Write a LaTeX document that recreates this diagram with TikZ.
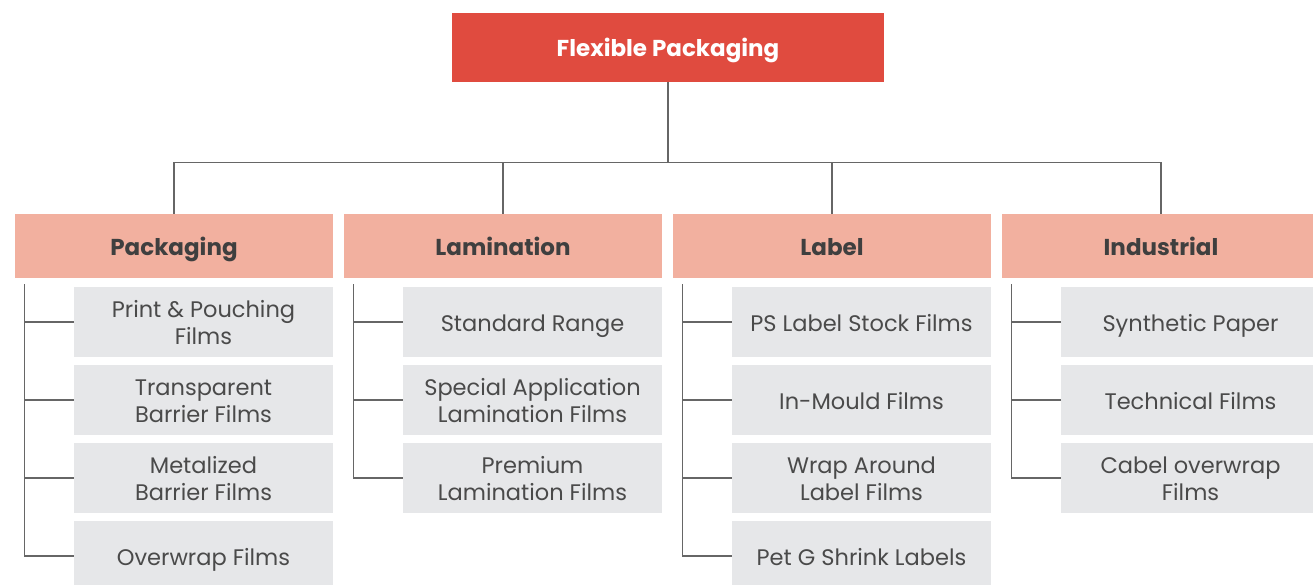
\documentclass[tikz,border=0pt]{standalone}
\usepackage{fontspec}
\setmainfont{Poppins}
\definecolor{rootred}{HTML}{E04B3F}
\definecolor{catpink}{HTML}{F2B09F}
\definecolor{itemgray}{HTML}{E6E7E9}
\definecolor{txtgray}{HTML}{4A4A4A}
\definecolor{catgray}{HTML}{3F3F3F}
\definecolor{linegray}{HTML}{666666}
\newcommand\twolines[2]{\begin{tabular}{@{}c@{}}#1\\#2\end{tabular}}
\begin{document}
\begin{tikzpicture}[x=1pt,y=-1pt,
    rootbox/.style={fill=rootred, text=white, font=\bfseries\fontsize{23}{27}\selectfont,
      minimum width=432, minimum height=69, inner sep=0pt, text height=20pt, text depth=2pt},
    catbox/.style={fill=catpink, text=catgray, font=\bfseries\fontsize{23}{27}\selectfont,
      minimum width=318, minimum height=64, inner sep=0pt, text height=20pt, text depth=2pt},
    itembox/.style={fill=itemgray, text=txtgray, font=\fontsize{22.5}{27}\selectfont,
      minimum width=259, minimum height=70, inner sep=0pt, text height=20pt, text depth=2pt},
    twoline/.style={itembox, text height=36pt, text depth=18.6pt},
    link/.style={draw=linegray, line width=1.2pt}]
  \useasboundingbox (0,0) rectangle (1313,585);
  % top level
  \node[rootbox] (root) at (668,47.5) {Flexible Packaging};
  \node[catbox] (pack) at (174,246) {Packaging};
  \node[catbox] (lami) at (503,246) {Lamination};
  \node[catbox] (label) at (832,246) {Label};
  \node[catbox] (indu) at (1161,246) {Industrial};
  \foreach \c in {pack,lami,label,indu}
    \draw[link] (root.south) -- ++(0,80) -| (\c.north);
  % packaging
  \node[twoline] (pack1) at (203.5,322) {\twolines{Print \& Pouching}{Films}};
  \node[twoline] (pack2) at (203.5,400) {\twolines{Transparent}{Barrier Films}};
  \node[twoline] (pack3) at (203.5,478) {\twolines{Metalized}{Barrier Films}};
  \node[itembox] (pack4) at (203.5,556) {Overwrap Films};
  % lamination
  \node[itembox] (lami1) at (532.5,322) {Standard Range};
  \node[twoline] (lami2) at (532.5,400) {\twolines{Special Application}{Lamination Films}};
  \node[twoline] (lami3) at (532.5,478) {\twolines{Premium}{Lamination Films}};
  % label
  \node[itembox] (label1) at (861.5,322) {PS Label Stock Films};
  \node[itembox] (label2) at (861.5,400) {In-Mould Films};
  \node[twoline] (label3) at (861.5,478) {\twolines{Wrap Around}{Label Films}};
  \node[itembox] (label4) at (861.5,556) {Pet G Shrink Labels};
  % industrial
  \node[itembox] (indu1) at (1190.5,322) {Synthetic Paper};
  \node[itembox] (indu2) at (1190.5,400) {Technical Films};
  \node[twoline] (indu3) at (1190.5,478) {\twolines{Cabel overwrap}{Films}};
  \foreach \c/\n in {pack/4,lami/3,label/4,indu/3}
    \foreach \i in {1,...,\n}
      \draw[link] ([shift={(10,6)}]\c.south west) |- (\c\i.west);
\end{tikzpicture}
\end{document}
